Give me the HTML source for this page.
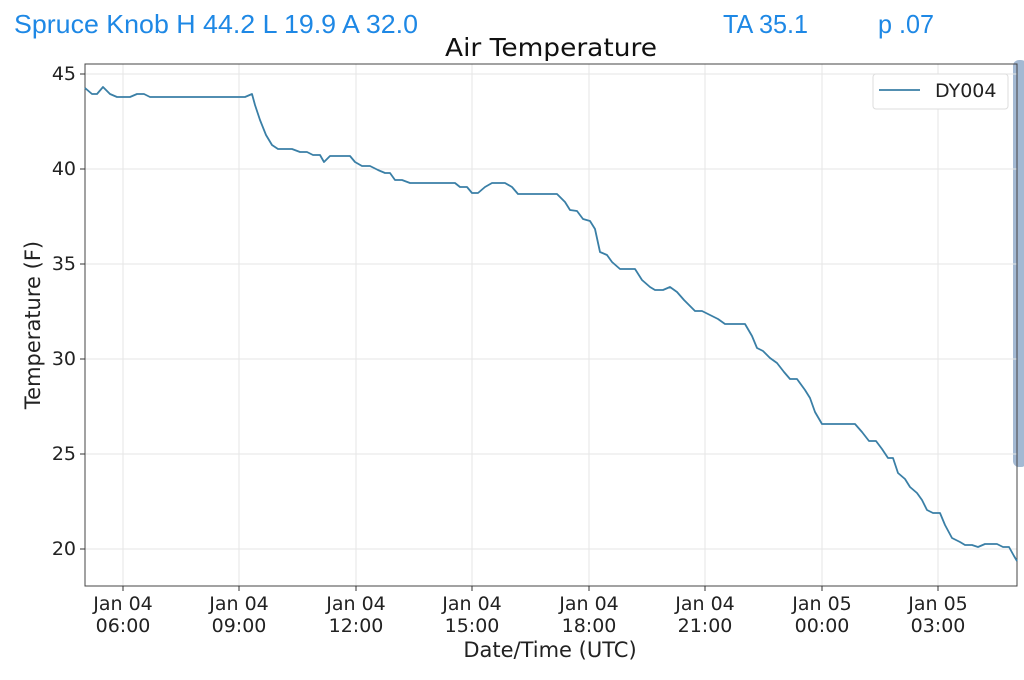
<!DOCTYPE html>
<html><head><meta charset="utf-8"><style>
body{margin:0;background:#fff;width:1024px;height:675px;overflow:hidden;font-family:"Liberation Sans","DejaVu Sans",sans-serif}
</style></head><body>
<svg width="1024" height="675" xmlns="http://www.w3.org/2000/svg" font-family="DejaVu Sans, Liberation Sans, sans-serif">
<rect width="1024" height="675" fill="#fff"/>
<text x="14" y="33" font-size="26" fill="#1e88e5" font-family="Liberation Sans, sans-serif" textLength="404" lengthAdjust="spacingAndGlyphs">Spruce Knob H 44.2 L 19.9 A 32.0</text>
<text x="723" y="33" font-size="26" fill="#1e88e5" font-family="Liberation Sans, sans-serif" textLength="85" lengthAdjust="spacingAndGlyphs">TA 35.1</text>
<text x="878" y="33" font-size="26" fill="#1e88e5" font-family="Liberation Sans, sans-serif" textLength="56" lengthAdjust="spacingAndGlyphs">p .07</text>
<text x="551" y="56" font-size="25" text-anchor="middle" fill="#111" textLength="212" lengthAdjust="spacingAndGlyphs">Air Temperature</text>
<rect x="1013" y="60" width="14" height="407" rx="6" fill="#a3b9d3"/>
<g stroke="#e6e6e6" stroke-width="1">
<line x1="85" x2="1017" y1="74" y2="74"/><line x1="85" x2="1017" y1="169" y2="169"/><line x1="85" x2="1017" y1="264" y2="264"/><line x1="85" x2="1017" y1="359" y2="359"/><line x1="85" x2="1017" y1="454" y2="454"/><line x1="85" x2="1017" y1="549" y2="549"/>
<line y1="64" y2="586" x1="123" x2="123"/><line y1="64" y2="586" x1="239" x2="239"/><line y1="64" y2="586" x1="356" x2="356"/><line y1="64" y2="586" x1="472" x2="472"/><line y1="64" y2="586" x1="589" x2="589"/><line y1="64" y2="586" x1="705" x2="705"/><line y1="64" y2="586" x1="822" x2="822"/><line y1="64" y2="586" x1="938" x2="938"/>
</g>
<rect x="85" y="64" width="932" height="522" fill="none" stroke="#444" stroke-width="1"/>
<g stroke="#333" stroke-width="1">
<line x1="80" x2="85" y1="74" y2="74"/><line x1="80" x2="85" y1="169" y2="169"/><line x1="80" x2="85" y1="264" y2="264"/><line x1="80" x2="85" y1="359" y2="359"/><line x1="80" x2="85" y1="454" y2="454"/><line x1="80" x2="85" y1="549" y2="549"/>
<line y1="586" y2="591" x1="123" x2="123"/><line y1="586" y2="591" x1="239" x2="239"/><line y1="586" y2="591" x1="356" x2="356"/><line y1="586" y2="591" x1="472" x2="472"/><line y1="586" y2="591" x1="589" x2="589"/><line y1="586" y2="591" x1="705" x2="705"/><line y1="586" y2="591" x1="822" x2="822"/><line y1="586" y2="591" x1="938" x2="938"/>
</g>
<g font-size="19" fill="#222" text-anchor="end">
<text x="76" y="80">45</text><text x="76" y="175">40</text><text x="76" y="270">35</text><text x="76" y="365">30</text><text x="76" y="460">25</text><text x="76" y="555">20</text>
</g>
<g font-size="19" fill="#222" text-anchor="middle">
<text x="123" y="610">Jan 04</text><text x="123" y="632">06:00</text>
<text x="239" y="610">Jan 04</text><text x="239" y="632">09:00</text>
<text x="356" y="610">Jan 04</text><text x="356" y="632">12:00</text>
<text x="472" y="610">Jan 04</text><text x="472" y="632">15:00</text>
<text x="589" y="610">Jan 04</text><text x="589" y="632">18:00</text>
<text x="705" y="610">Jan 04</text><text x="705" y="632">21:00</text>
<text x="822" y="610">Jan 05</text><text x="822" y="632">00:00</text>
<text x="938" y="610">Jan 05</text><text x="938" y="632">03:00</text>
</g>
<text x="550" y="657" font-size="21" text-anchor="middle" fill="#222">Date/Time (UTC)</text>
<text transform="translate(40,325) rotate(-90)" font-size="21" text-anchor="middle" fill="#222">Temperature (F)</text>
<polyline fill="none" stroke="#3a7fa6" stroke-width="1.8" stroke-linejoin="round" points="85,88 92,94 97,94 103,87 110,94 117,97 130,97 137,94 144,94 150,97 245,97 252,94 255,105 260,120 266,135 272,145 278,149 292,149 300,152 307,152 313,155 320,155 324,162 330,156 350,156 355,162 362,166 370,166 378,170 385,173 390,173 395,180 402,180 410,183 455,183 460,187 467,187 472,193 478,193 485,187 492,183 505,183 512,187 518,194 557,194 565,202 570,210 577,211 583,219 590,221 595,229 600,252 607,255 612,262 620,269 635,269 642,280 650,287 655,290 663,290 670,287 677,292 684,300 690,306 695,311 702,311 710,315 718,319 725,324 745,324 752,336 757,348 763,351 770,358 777,363 784,372 790,379 797,379 805,390 810,398 815,412 822,424 855,424 862,432 869,441 876,441 882,449 888,458 893,458 898,473 905,479 910,487 917,493 922,500 927,510 933,513 940,513 945,525 952,538 960,542 965,545 972,545 978,547 985,544 997,544 1003,547 1009,547 1014,556 1017,561"/>
<rect x="873" y="74" width="135" height="35" rx="3" fill="#fff" stroke="#ddd"/>
<line x1="879" x2="920" y1="90" y2="90" stroke="#3a7fa6" stroke-width="1.8"/>
<text x="935" y="97" font-size="19" fill="#222">DY004</text>
</svg>
</body></html>
